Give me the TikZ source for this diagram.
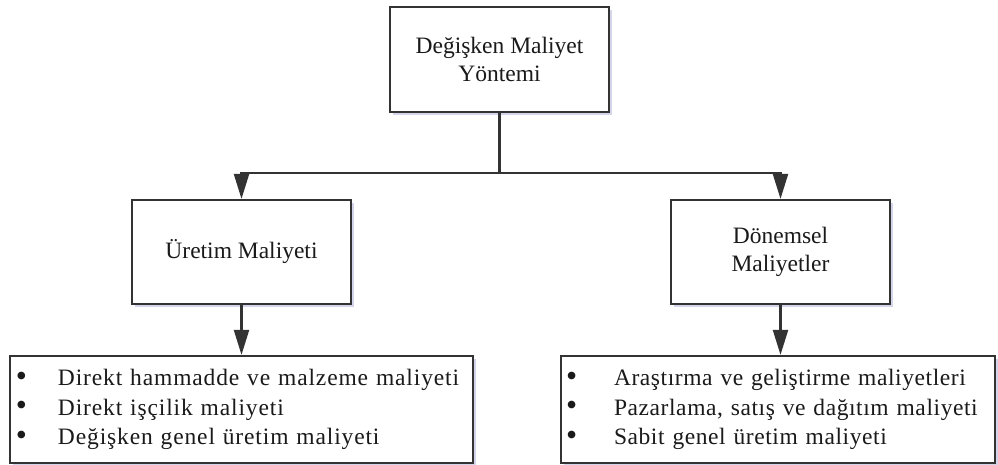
\documentclass[tikz,border=0pt]{standalone}
\usepackage{fontspec}
\setmainfont{Liberation Serif}
\newfontfamily\listwide[LetterSpace=3.7]{Liberation Serif}
\newfontfamily\listmid[LetterSpace=2.5]{Liberation Serif}
\usetikzlibrary{arrows.meta,shadows}
\definecolor{edge}{HTML}{333333}
\definecolor{txt}{HTML}{1A1A1A}
\tikzset{
  box/.style={draw=edge, line width=2.2pt, fill=white, align=center, inner sep=0pt,
    text=txt, font=\fontsize{23.5}{28}\selectfont,
    drop shadow={shadow xshift=2.5pt, shadow yshift=-3pt, opacity=0.25, fill=blue!35!gray}},
  listbox/.style={box, align=left, inner xsep=6pt},
  link/.style={draw=edge, line width=2.2pt},
  arrow/.style={link, -{Triangle[width=15pt,length=25pt]}}
}
\newcommand{\blt}{\raisebox{-0.5pt}{\scalebox{1.35}{\textbullet}}}
\begin{document}
\begin{tikzpicture}[x=1pt,y=-1pt]
  \useasboundingbox (0,0) rectangle (998,465);

  % method box
  \node[box, minimum width=219pt, minimum height=105pt] (top) at (499.5,59.5)
    {Değişken Maliyet\\Yöntemi};

  % cost groups
  \node[box, minimum width=219pt, minimum height=104pt] (prod) at (241.5,252)
    {Üretim Maliyeti};
  \node[box, minimum width=219pt, minimum height=104pt] (period) at (780.5,252)
    {Dönemsel\\Maliyetler};

  % cost items
  \node[listbox, minimum width=463pt, minimum height=107pt, text width=451pt,
        font=\listwide\fontsize{23.5}{29.5}\selectfont] (prodlist) at (241.5,409.5)
    {\begin{tabular}{@{}p{42pt}@{}l@{}}
      \blt & Direkt hammadde ve malzeme maliyeti\\
      \blt & Direkt işçilik maliyeti\\
      \blt & Değişken genel üretim maliyeti
    \end{tabular}};
  \node[listbox, minimum width=434pt, minimum height=107pt, text width=424pt,
        inner xsep=5pt, font=\listmid\fontsize{23.5}{29.5}\selectfont] (periodlist) at (778,409.5)
    {\begin{tabular}{@{}p{48pt}@{}l@{}}
      \blt & Araştırma ve geliştirme maliyetleri\\
      \blt & Pazarlama, satış ve dağıtım maliyeti\\
      \blt & Sabit genel üretim maliyeti
    \end{tabular}};

  % junction on the distribution bar
  \coordinate (bar) at (499.5,173);
  \draw[arrow] (top.south) -- (bar) -| (prod.north);
  \draw[arrow] (bar) -| (period.north);

  \draw[arrow] (prod.south) -- (prodlist.north);
  \draw[arrow] (period.south) -- (period.south |- periodlist.north);
\end{tikzpicture}
\end{document}
